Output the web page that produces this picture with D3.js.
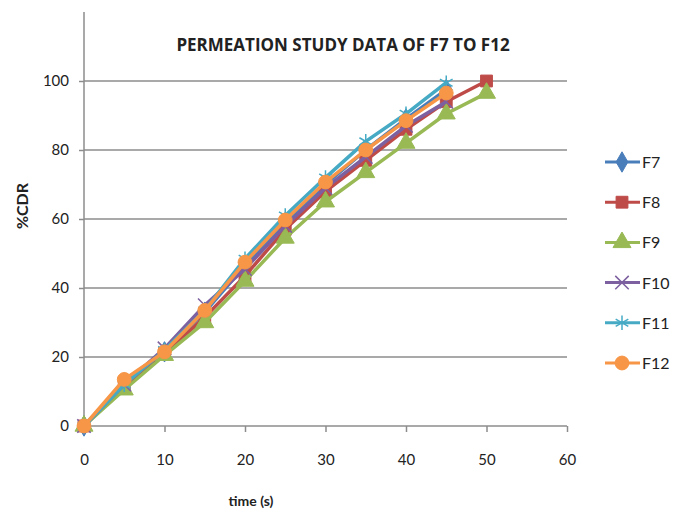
<!DOCTYPE html>
<html>
<head>
<meta charset="utf-8">
<script src="https://cdn.jsdelivr.net/npm/d3@7"></script>
<style>
  body { margin: 0; background: #fff; }
  svg text { font-family: Lato, "Open Sans", sans-serif; fill: #222; }
</style>
</head>
<body>
<div id="chart"></div>
<script>
'use strict'

const times = [0, 5, 10, 15, 20, 25, 30, 35, 40, 45, 50];
const seriesNames = ['F7', 'F8', 'F9', 'F10', 'F11', 'F12'];
const seriesColors = ['#4a7ebb', '#be4b48', '#98b954', '#7d60a0', '#46aac5', '#f79646'];
const seriesSymbols = ['diamond', 'square', 'triangle', 'x', 'star', 'circle'];

const f7  = [0, 12.5, 21.5, 33, 46.5, 59, 70, 80, 89, 97.5];
const f8  = [0, 11.5, 21, 31.5, 43.5, 57, 68, 77, 86, 94, 100];
const f9  = [0, 10.5, 20.5, 30, 42, 54.5, 65, 73.5, 82, 90.5, 96.5];
const f10 = [0, 12, 22.5, 35, 45.5, 58, 69, 78, 87, 94];
const f11 = [0, 12, 22, 33.5, 48.5, 61, 72, 82.5, 90.5, 99.5];
const f12 = [0, 13.5, 21.5, 33.5, 47.5, 59.7, 70.7, 80, 88.5, 96.5];
const seriesValues = [f7, f8, f9, f10, f11, f12];

const xTicks = [0, 10, 20, 30, 40, 50, 60];
const yTicks = [0, 20, 40, 60, 80, 100];

const width = 686, height = 512;
const svg = d3.select('#chart').append('svg')
    .attr('width', width)
    .attr('height', height);

const x = d3.scaleLinear().domain([0, 60]).range([84, 567]);
const y = d3.scaleLinear().domain([0, 120]).range([426, 12]);

// gridlines
svg.append('g')
    .selectAll('line')
    .data(yTicks.filter(d => d > 0))
    .enter().append('line')
    .attr('x1', x(0)).attr('x2', x(60))
    .attr('y1', d => y(d)).attr('y2', d => y(d))
    .style('stroke', '#8c8c8c')
    .style('stroke-width', 1.5);

// axes
const xAxis = svg.append('g')
    .attr('transform', `translate(0,${y(0)})`)
    .call(d3.axisBottom(x).tickValues(xTicks).tickSize(6).tickPadding(22));
const yAxis = svg.append('g')
    .attr('transform', `translate(${x(0)},0)`)
    .call(d3.axisLeft(y).tickValues(yTicks).tickSize(5).tickPadding(10));

[xAxis, yAxis].forEach(a => {
    a.select('.domain').style('stroke', '#8c8c8c').style('stroke-width', 1.5);
    a.selectAll('.tick line').style('stroke', '#8c8c8c').style('stroke-width', 1.5);
    a.selectAll('.tick text').style('font-size', '15px').style('fill', '#222');
});
xAxis.select('.domain').attr('d', `M${x(0)},0H${x(60)}`);
yAxis.select('.domain').attr('d', `M0,${y(0)}V${y(120)}`);

// title and axis labels
svg.append('text')
    .attr('x', 343).attr('y', 51)
    .attr('text-anchor', 'middle')
    .style('font-family', '"Liberation Sans Narrow", "Open Sans", sans-serif')
    .style('font-weight', 'bold')
    .style('font-size', '17px')
    .text('PERMEATION STUDY DATA OF F7 TO F12');

svg.append('text')
    .attr('x', 251).attr('y', 506)
    .attr('text-anchor', 'middle')
    .style('font-weight', 'bold')
    .style('font-size', '14px')
    .text('time (s)');

svg.append('text')
    .attr('transform', 'translate(28,206) rotate(-90)')
    .attr('text-anchor', 'middle')
    .style('font-weight', 'bold')
    .style('font-size', '16px')
    .text('%CDR');

// series
const symbolFor = name => ({
    diamond: d3.symbolDiamond, square: d3.symbolSquare, triangle: d3.symbolTriangle,
    x: d3.symbolTimes, star: d3.symbolAsterisk, circle: d3.symbolCircle
})[name];
const symbolSize = { diamond: 120, square: 140, triangle: 140, x: 120, star: 150, circle: 150 };

const drawMarker = (g, s, color, px, py) => {
    const path = g.append('path')
        .attr('transform', `translate(${px},${py})`)
        .attr('d', d3.symbol().type(symbolFor(s)).size(symbolSize[s])());
    if (s === 'x' || s === 'star') {
        path.style('fill', 'none').style('stroke', color).style('stroke-width', 1.5);
    } else {
        path.style('fill', color).style('stroke', color).style('stroke-width', 1);
    }
};

const line = d3.line()
    .x((d, i) => x(times[i]))
    .y(d => y(d));

seriesNames.forEach((name, k) => {
    const g = svg.append('g').attr('class', 'series');
    const vals = seriesValues[k];
    g.append('path')
        .attr('d', line(vals))
        .style('fill', 'none')
        .style('stroke', seriesColors[k])
        .style('stroke-width', 3.5)
        .style('stroke-linejoin', 'round');
    vals.forEach((v, i) => drawMarker(g, seriesSymbols[k], seriesColors[k], x(times[i]), y(v)));
});

// legend
const legend = svg.append('g');
seriesNames.forEach((name, k) => {
    const ly = 162 + k * 40.2;
    legend.append('line')
        .attr('x1', 605).attr('x2', 640)
        .attr('y1', ly).attr('y2', ly)
        .style('stroke', seriesColors[k])
        .style('stroke-width', 3);
    drawMarker(legend, seriesSymbols[k], seriesColors[k], 622, ly);
    legend.append('text')
        .attr('x', 642).attr('y', ly + 6)
        .style('font-size', '16px')
        .text(name);
});
</script>
</body>
</html>
